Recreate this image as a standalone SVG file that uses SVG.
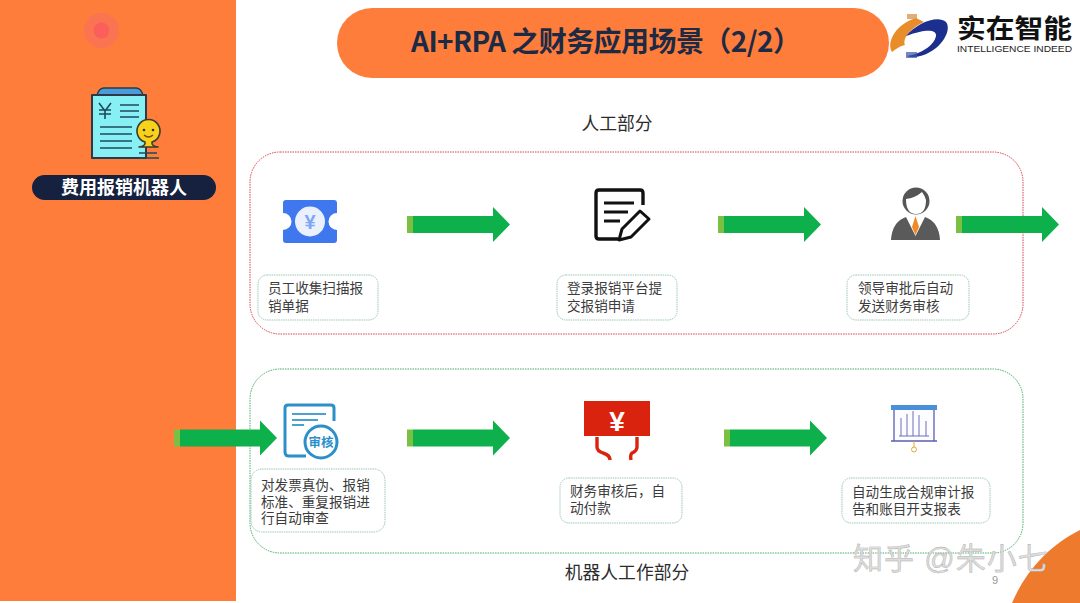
<svg xmlns="http://www.w3.org/2000/svg" width="1080" height="603" viewBox="0 0 1080 603">
<style>
text{font-family:"Liberation Sans","Noto Sans CJK SC",sans-serif}
.cap{font-size:13.600px;fill:#3c3c3c}
.head{font-size:17.800px;fill:#2c2c2c}
.box{fill:#fff;stroke:#9cc9b6;stroke-width:1;stroke-dasharray:1.500 .8}
.shaft{fill:#0db04b}
.tail{fill:#7ac143}
</style>
<defs>
<g id="arrow">
<rect x="0" y="-8.500" width="6" height="17" class="tail"/>
<path d="M6-8.500H86V-17.500L103 0 86 17.500V8.500H6Z" class="shaft"/>
</g>
</defs>
<rect width="1080" height="603" fill="#fff"/>
<rect width="236" height="603" fill="#fe7d3b"/>
<rect y="601" width="236" height="2" fill="#fff"/>
<circle cx="101.500" cy="30.500" r="17.500" fill="#fb7451"/>
<circle cx="101.500" cy="30.500" r="8" fill="#fb5f5c"/>
<path d="M1012 603C1026 570 1050 545 1080 530V603Z" fill="#ee7a2e"/>

<g id="doc-icon">
<path d="M97 95Q99 88 104 88H136Q141 88 143 95Z" fill="#4a9bd8" stroke="#2b3a4a" stroke-width="1.500"/>
<path d="M92 95H146V158H92Z" fill="#86f0f4" stroke="#2b3a4a" stroke-width="2" stroke-linejoin="round"/>
<path d="M99 103L105 111 111 103M105 111V119M99 110H111M99 114H111M120 105H139M120 111H139M120 117H139M100 127H132M100 134H132M100 141H132M100 148H132M139 153H157M139 158H159" stroke="#1e4a5a" stroke-width="1.600" fill="none"/>
<path d="M139 147Q146 146 145 142A11.500 11.500 0 1 1 152 142Q151 146 158 147Z" fill="#f8d21a" stroke="#3a3a30" stroke-width="1.600" stroke-linejoin="round"/>
<circle cx="144" cy="130" r="1.300" fill="#333"/><circle cx="153" cy="130" r="1.300" fill="#333"/>
<path d="M144 135Q148.500 139 153 135" stroke="#7a4a10" fill="none" stroke-width="1.400"/>
</g>
<g id="robot-label">
<rect x="32" y="175" width="184" height="25" rx="12.500" fill="#16213f"/>
<text x="124" y="194" font-size="18" font-weight="700" fill="#fff" text-anchor="middle">费用报销机器人</text>
</g>
<g id="title">
<rect x="337" y="8" width="552" height="70" rx="35" fill="#fe7d3b"/>
<text x="411" y="52" font-size="28" font-weight="700" fill="#1d2a44" textLength="390" style="font-family:'Noto Sans CJK SC','Noto Sans',sans-serif">AI+RPA 之财务应用场景（2/2）</text>
</g>
<g id="logo">
<path d="M892 52C886 42 896 24 916 18L924 22C912 27 902 38 905 45C900 46 896 49 892 52Z" fill="#e98d2a"/>
<path d="M906 36C918 22 938 15 946 22C952 30 942 46 930 52C922 57 912 58 907 56C920 54 934 46 936 36C937 28 922 30 906 36Z" fill="#1c2f8f"/>
<rect x="906" y="52" width="11" height="6" fill="#3b54a6" opacity=".7"/>
<rect x="907" y="14" width="10" height="5" fill="#d89a55" opacity=".8"/>
<text x="957" y="38" font-size="26" font-weight="700" fill="#111" textLength="115" lengthAdjust="spacingAndGlyphs">实在智能</text>
<text x="957" y="52" font-size="9.500" fill="#222" textLength="115" lengthAdjust="spacingAndGlyphs">INTELLIGENCE INDEED</text>
</g>

<text x="617" y="130" class="head" text-anchor="middle">人工部分</text>
<rect x="250" y="152" width="773" height="182" rx="30" fill="none" stroke="#d9404a" stroke-width="1" stroke-dasharray="1.500 1"/>
<rect x="250" y="369" width="773" height="184" rx="30" fill="none" stroke="#45ab68" stroke-width="1" stroke-dasharray="1.500 1"/>
<text x="627" y="579" class="head" text-anchor="middle">机器人工作部分</text>

<g id="connectors">
<use href="#arrow" x="407" y="224.500"/>
<use href="#arrow" x="718" y="224.500"/>
<use href="#arrow" x="956" y="224.500"/>
<use href="#arrow" x="174" y="438"/>
<use href="#arrow" x="407" y="438"/>
<use href="#arrow" x="724" y="438"/>
</g>

<g id="n1">
<path d="M286 200H334Q337 200 337 203V213A8.500 8.500 0 0 0 337 230V240Q337 243 334 243H286Q283 243 283 240V230A8.500 8.500 0 0 0 283 213V203Q283 200 286 200Z" fill="#3f78ee"/>
<circle cx="310" cy="221.500" r="15" fill="#eaf1fd"/>
<text x="310" y="228.500" font-size="20" font-weight="700" fill="#7fa6f3" text-anchor="middle">¥</text>
<rect x="258" y="275" width="120" height="45" rx="9" class="box"/>
<text class="cap"><tspan x="268" y="293">员工收集扫描报</tspan><tspan x="268" y="311">销单据</tspan></text>
</g>
<g id="n2">
<path d="M643 205V193Q643 190 640 190H599Q596 190 596 193V236Q596 239 599 239H618" fill="none" stroke="#111" stroke-width="3.400"/>
<path d="M604 203H634M604 212H628M604 221H620" stroke="#111" stroke-width="3" fill="none"/>
<path d="M619 240L622 229 640 211 649 219 631 237Z" fill="#fff" stroke="#111" stroke-width="3" stroke-linejoin="round"/>
<rect x="557" y="275" width="120" height="45" rx="9" class="box"/>
<text class="cap"><tspan x="567" y="293">登录报销平台提</tspan><tspan x="567" y="311">交报销申请</tspan></text>
</g>
<g id="n3">
<circle cx="916" cy="201" r="13.500" fill="#555"/>
<path d="M906 199Q915 198 922 192Q925 196 926 200Q926 214 916 214Q906 214 906 199Z" fill="#fff"/>
<path d="M891 240Q892 222 906 217L915.500 236 925 217Q939 222 940 240Z" fill="#5a5a5a"/>
<path d="M915.500 216L919 227 915.500 235 912 227Z" fill="#f08a24"/>
<rect x="847" y="275" width="122" height="45" rx="9" class="box"/>
<text class="cap"><tspan x="858" y="293">领导审批后自动</tspan><tspan x="858" y="311">发送财务审核</tspan></text>
</g>
<g id="n4">
<path d="M334 421V408Q334 405 331 405H288Q285 405 285 408V452Q285 456 289 456H306" fill="none" stroke="#2d8fc9" stroke-width="3"/>
<path d="M292 414H326M292 420H318M292 425H304" stroke="#4aa0d4" stroke-width="2" fill="none"/>
<circle cx="321" cy="442" r="16" fill="#fff" stroke="#2d8fc9" stroke-width="3"/>
<text x="321" y="446.500" font-size="12.500" font-weight="700" fill="#2d8fc9" text-anchor="middle">审核</text>
<rect x="251" y="469" width="134" height="63" rx="11" class="box"/>
<text class="cap"><tspan x="261" y="490">对发票真伪、报销</tspan><tspan x="261" y="507">标准、重复报销进</tspan><tspan x="261" y="523">行自动审查</tspan></text>
</g>
<g id="n5">
<rect x="584" y="401" width="66" height="35" fill="#d9230f"/>
<text x="617" y="431" font-size="28" font-weight="700" fill="#fff" text-anchor="middle">¥</text>
<path d="M597 437V447Q597 451 603 453Q610 455 610 460M637 437V447Q637 451 632 453Q630 455 631 460" stroke="#d9230f" stroke-width="3.400" fill="none"/>
<rect x="560" y="478" width="122" height="45" rx="9" class="box"/>
<text class="cap"><tspan x="570" y="496">财务审核后，自</tspan><tspan x="570" y="513">动付款</tspan></text>
</g>
<g id="n6">
<rect x="891" y="405" width="46" height="5" fill="#4a90d9"/>
<path d="M894 410V441H934V410M891 441H937" fill="#fdfdff" stroke="#5a5fb5" stroke-width="1.300"/>
<path d="M901 436V418M907 436V414M913 436V411M919 436V415M926 436V421M899 436H929" stroke="#6a6fc0" stroke-width="1" fill="none"/>
<path d="M914 441V447" stroke="#e0a93a"/><circle cx="914" cy="449.500" r="2.500" fill="none" stroke="#e0a93a"/>
<rect x="842" y="478" width="148" height="45" rx="9" class="box"/>
<text class="cap"><tspan x="852" y="497">自动生成合规审计报</tspan><tspan x="852" y="514">告和账目开支报表</tspan></text>
</g>
<text x="853" y="569" font-size="30" fill="#ddd" stroke="#aaa" stroke-width=".4" letter-spacing="1">知乎 @朱小七</text>
<text x="995" y="584" font-size="11" fill="#999" text-anchor="middle">9</text>
</svg>
